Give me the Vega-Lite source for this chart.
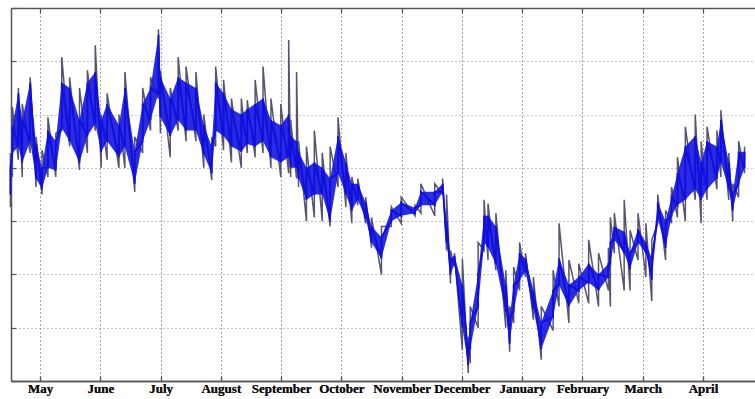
{
  "$schema": "https://vega.github.io/schema/vega-lite/v6.json",
  "width": 744,
  "height": 373,
  "autosize": "none",
  "padding": {"left": 11, "top": 8, "right": 0, "bottom": 18},
  "background": "white",
  "config": {
    "view": {"stroke": null},
    "axis": {
      "domainColor": "#555555",
      "domainWidth": 1.5,
      "tickColor": "#555555",
      "tickWidth": 1.2,
      "tickSize": -5,
      "gridColor": "#8a8a8a",
      "gridDash": [1, 3],
      "gridWidth": 1,
      "labelFont": "Liberation Serif",
      "labelFontWeight": "bold",
      "labelFontSize": 13,
      "labelColor": "#111111",
      "title": null
    }
  },
  "data": {
    "values": [
      {"date": "2010-04-16", "lo": 3.26, "hi": 4.28, "b1": 3.5, "b2": 4.0},
      {"date": "2010-04-17", "lo": 3.83, "hi": 5.14, "b1": 4.28, "b2": 4.77},
      {"date": "2010-04-20", "lo": 4.15, "hi": 5.5, "b1": 4.4, "b2": 5.4},
      {"date": "2010-04-22", "lo": 3.83, "hi": 5.2, "b1": 4.1, "b2": 4.9},
      {"date": "2010-04-26", "lo": 4.28, "hi": 5.7, "b1": 4.5, "b2": 5.6},
      {"date": "2010-04-29", "lo": 3.64, "hi": 4.58, "b1": 3.8, "b2": 4.45},
      {"date": "2010-05-02", "lo": 3.5, "hi": 4.33, "b1": 3.6, "b2": 4.0},
      {"date": "2010-05-05", "lo": 3.83, "hi": 4.95, "b1": 4.0, "b2": 4.7},
      {"date": "2010-05-09", "lo": 3.83, "hi": 4.65, "b1": 3.95, "b2": 4.5},
      {"date": "2010-05-12", "lo": 4.7, "hi": 6.08, "b1": 4.75, "b2": 5.6},
      {"date": "2010-05-16", "lo": 4.4, "hi": 5.7, "b1": 4.5, "b2": 5.5},
      {"date": "2010-05-21", "lo": 3.96, "hi": 5.5, "b1": 4.1, "b2": 4.9},
      {"date": "2010-05-25", "lo": 4.28, "hi": 5.83, "b1": 4.6, "b2": 5.6},
      {"date": "2010-05-29", "lo": 4.7, "hi": 6.3, "b1": 4.83, "b2": 5.8},
      {"date": "2010-06-01", "lo": 4.0, "hi": 5.0, "b1": 4.3, "b2": 4.9},
      {"date": "2010-06-04", "lo": 4.15, "hi": 5.4, "b1": 4.5, "b2": 5.2},
      {"date": "2010-06-10", "lo": 4.0, "hi": 5.0, "b1": 4.2, "b2": 4.8},
      {"date": "2010-06-13", "lo": 4.0, "hi": 5.8, "b1": 4.4, "b2": 5.5},
      {"date": "2010-06-18", "lo": 3.55, "hi": 4.58, "b1": 3.7, "b2": 4.3},
      {"date": "2010-06-22", "lo": 4.28, "hi": 5.5, "b1": 4.5, "b2": 5.2},
      {"date": "2010-06-26", "lo": 4.7, "hi": 5.7, "b1": 4.9, "b2": 5.5},
      {"date": "2010-06-30", "lo": 5.3, "hi": 6.6, "b1": 5.4, "b2": 6.5},
      {"date": "2010-07-01", "lo": 4.65, "hi": 5.83, "b1": 4.95, "b2": 5.7},
      {"date": "2010-07-06", "lo": 4.2, "hi": 5.5, "b1": 4.6, "b2": 5.3},
      {"date": "2010-07-10", "lo": 4.7, "hi": 6.08, "b1": 4.9, "b2": 5.7},
      {"date": "2010-07-14", "lo": 4.5, "hi": 5.9, "b1": 4.7, "b2": 5.6},
      {"date": "2010-07-19", "lo": 4.5, "hi": 5.8, "b1": 4.7, "b2": 5.5},
      {"date": "2010-07-23", "lo": 4.0, "hi": 5.0, "b1": 4.25, "b2": 4.8},
      {"date": "2010-07-27", "lo": 3.77, "hi": 4.58, "b1": 3.9, "b2": 4.4},
      {"date": "2010-07-29", "lo": 4.4, "hi": 5.9, "b1": 4.7, "b2": 5.6},
      {"date": "2010-08-02", "lo": 4.33, "hi": 5.65, "b1": 4.6, "b2": 5.4},
      {"date": "2010-08-06", "lo": 4.1, "hi": 5.3, "b1": 4.4, "b2": 5.1},
      {"date": "2010-08-11", "lo": 4.0, "hi": 5.3, "b1": 4.3, "b2": 5.0},
      {"date": "2010-08-14", "lo": 4.28, "hi": 5.27, "b1": 4.45, "b2": 5.1},
      {"date": "2010-08-18", "lo": 4.2, "hi": 5.65, "b1": 4.4, "b2": 5.2},
      {"date": "2010-08-22", "lo": 4.28, "hi": 5.9, "b1": 4.5, "b2": 5.3},
      {"date": "2010-08-26", "lo": 4.0, "hi": 5.3, "b1": 4.2, "b2": 4.9},
      {"date": "2010-08-31", "lo": 3.83, "hi": 5.2, "b1": 4.1, "b2": 4.8},
      {"date": "2010-09-04", "lo": 3.9, "hi": 6.4, "b1": 4.2, "b2": 5.0},
      {"date": "2010-09-05", "lo": 3.83, "hi": 4.9, "b1": 4.0, "b2": 4.6},
      {"date": "2010-09-08", "lo": 3.8, "hi": 5.8, "b1": 4.0, "b2": 4.5},
      {"date": "2010-09-09", "lo": 3.64, "hi": 4.5, "b1": 3.8, "b2": 4.3},
      {"date": "2010-09-13", "lo": 3.0, "hi": 4.4, "b1": 3.4, "b2": 4.0},
      {"date": "2010-09-17", "lo": 3.07, "hi": 4.7, "b1": 3.5, "b2": 4.1},
      {"date": "2010-09-21", "lo": 3.0, "hi": 4.28, "b1": 3.5, "b2": 4.0},
      {"date": "2010-09-25", "lo": 2.9, "hi": 4.4, "b1": 3.0, "b2": 3.8},
      {"date": "2010-09-29", "lo": 3.64, "hi": 4.95, "b1": 3.9, "b2": 4.6},
      {"date": "2010-10-03", "lo": 3.26, "hi": 4.28, "b1": 3.5, "b2": 4.1},
      {"date": "2010-10-06", "lo": 2.96, "hi": 3.83, "b1": 3.2, "b2": 3.7},
      {"date": "2010-10-09", "lo": 3.3, "hi": 3.8, "b1": 3.4, "b2": 3.7},
      {"date": "2010-10-13", "lo": 2.96, "hi": 3.45, "b1": 3.05, "b2": 3.35},
      {"date": "2010-10-16", "lo": 2.5, "hi": 3.07, "b1": 2.6, "b2": 2.9},
      {"date": "2010-10-21", "lo": 2.0, "hi": 2.9, "b1": 2.3, "b2": 2.7},
      {"date": "2010-10-26", "lo": 2.9, "hi": 3.27, "b1": 3.0, "b2": 3.2},
      {"date": "2010-10-31", "lo": 2.96, "hi": 3.45, "b1": 3.1, "b2": 3.35},
      {"date": "2010-11-07", "lo": 3.1, "hi": 3.3, "b1": 3.15, "b2": 3.25},
      {"date": "2010-11-10", "lo": 3.15, "hi": 3.7, "b1": 3.3, "b2": 3.55},
      {"date": "2010-11-17", "lo": 3.1, "hi": 3.7, "b1": 3.3, "b2": 3.55},
      {"date": "2010-11-21", "lo": 3.5, "hi": 3.8, "b1": 3.55, "b2": 3.7},
      {"date": "2010-11-23", "lo": 2.45, "hi": 3.5, "b1": 2.6, "b2": 3.0},
      {"date": "2010-11-25", "lo": 1.83, "hi": 2.45, "b1": 2.0, "b2": 2.3},
      {"date": "2010-11-27", "lo": 2.15, "hi": 2.4, "b1": 2.2, "b2": 2.35},
      {"date": "2010-12-01", "lo": 0.58, "hi": 2.3, "b1": 1.0, "b2": 1.8},
      {"date": "2010-12-04", "lo": 0.15, "hi": 0.83, "b1": 0.3, "b2": 0.7},
      {"date": "2010-12-05", "lo": 0.34, "hi": 1.4, "b1": 0.6, "b2": 1.1},
      {"date": "2010-12-09", "lo": 1.0, "hi": 2.6, "b1": 1.4, "b2": 2.0},
      {"date": "2010-12-12", "lo": 2.45, "hi": 3.4, "b1": 2.6, "b2": 3.1},
      {"date": "2010-12-14", "lo": 2.27, "hi": 3.33, "b1": 2.5, "b2": 3.1},
      {"date": "2010-12-18", "lo": 2.08, "hi": 3.15, "b1": 2.2, "b2": 2.9},
      {"date": "2010-12-23", "lo": 1.0, "hi": 2.08, "b1": 1.3, "b2": 1.8},
      {"date": "2010-12-25", "lo": 0.55, "hi": 1.4, "b1": 0.7, "b2": 1.2},
      {"date": "2010-12-27", "lo": 1.09, "hi": 2.14, "b1": 1.3, "b2": 1.8},
      {"date": "2010-12-30", "lo": 1.7, "hi": 2.6, "b1": 1.9, "b2": 2.4},
      {"date": "2011-01-02", "lo": 1.95, "hi": 2.4, "b1": 2.05, "b2": 2.3},
      {"date": "2011-01-06", "lo": 1.15, "hi": 1.95, "b1": 1.35, "b2": 1.7},
      {"date": "2011-01-10", "lo": 0.4, "hi": 1.4, "b1": 0.6, "b2": 1.1},
      {"date": "2011-01-16", "lo": 0.95, "hi": 2.08, "b1": 1.2, "b2": 1.7},
      {"date": "2011-01-19", "lo": 1.4, "hi": 2.96, "b1": 1.8, "b2": 2.3},
      {"date": "2011-01-24", "lo": 1.09, "hi": 2.27, "b1": 1.4, "b2": 1.8},
      {"date": "2011-01-29", "lo": 1.46, "hi": 2.2, "b1": 1.7, "b2": 1.95},
      {"date": "2011-02-03", "lo": 1.46, "hi": 2.65, "b1": 1.85, "b2": 2.2},
      {"date": "2011-02-08", "lo": 1.4, "hi": 2.4, "b1": 1.7, "b2": 2.0},
      {"date": "2011-02-13", "lo": 1.7, "hi": 2.5, "b1": 1.95, "b2": 2.2},
      {"date": "2011-02-14", "lo": 1.4, "hi": 3.07, "b1": 2.2, "b2": 2.6},
      {"date": "2011-02-16", "lo": 2.4, "hi": 3.15, "b1": 2.65, "b2": 2.9},
      {"date": "2011-02-21", "lo": 1.7, "hi": 3.4, "b1": 2.4, "b2": 2.8},
      {"date": "2011-02-24", "lo": 1.7, "hi": 2.83, "b1": 2.1, "b2": 2.4},
      {"date": "2011-02-28", "lo": 2.27, "hi": 3.15, "b1": 2.6, "b2": 2.85},
      {"date": "2011-03-04", "lo": 1.95, "hi": 2.96, "b1": 2.4, "b2": 2.6},
      {"date": "2011-03-07", "lo": 1.5, "hi": 2.65, "b1": 1.9, "b2": 2.3},
      {"date": "2011-03-10", "lo": 2.96, "hi": 3.5, "b1": 3.05, "b2": 3.35},
      {"date": "2011-03-14", "lo": 2.27, "hi": 3.2, "b1": 2.5, "b2": 3.0},
      {"date": "2011-03-17", "lo": 2.96, "hi": 3.64, "b1": 3.1, "b2": 3.45},
      {"date": "2011-03-20", "lo": 3.07, "hi": 4.2, "b1": 3.3, "b2": 3.9},
      {"date": "2011-03-24", "lo": 3.0, "hi": 4.77, "b1": 3.4, "b2": 4.4},
      {"date": "2011-03-29", "lo": 3.4, "hi": 5.0, "b1": 3.6, "b2": 4.6},
      {"date": "2011-04-01", "lo": 2.96, "hi": 4.5, "b1": 3.4, "b2": 4.1},
      {"date": "2011-04-04", "lo": 3.4, "hi": 4.77, "b1": 3.6, "b2": 4.5},
      {"date": "2011-04-09", "lo": 3.6, "hi": 4.7, "b1": 3.8, "b2": 4.4},
      {"date": "2011-04-11", "lo": 3.83, "hi": 5.08, "b1": 4.1, "b2": 4.9},
      {"date": "2011-04-15", "lo": 3.4, "hi": 4.28, "b1": 3.6, "b2": 4.1},
      {"date": "2011-04-17", "lo": 3.0, "hi": 3.7, "b1": 3.2, "b2": 3.5},
      {"date": "2011-04-20", "lo": 3.45, "hi": 4.5, "b1": 3.7, "b2": 4.3},
      {"date": "2011-04-23", "lo": 3.9, "hi": 4.4, "b1": 4.0, "b2": 4.3}
    ]
  },
  "layer": [
    {
      "transform": [{"fold": ["lo", "hi"], "as": ["bound", "value"]}],
      "mark": {"type": "line", "interpolate": "linear", "color": "#55556f", "strokeWidth": 1.5},
      "encoding": {
        "x": {
          "field": "date", "type": "temporal",
          "scale": {"domain": [{"year": 2010, "month": 4, "date": 16, "hours": 7}, {"year": 2011, "month": 4, "date": 28, "hours": 7}]},
          "axis": {
            "orient": "bottom",
            "grid": true,
            "labelPadding": 6,
            "values": [
              {"year": 2010, "month": 5, "date": 1},
              {"year": 2010, "month": 5, "date": 31, "hours": 13},
              {"year": 2010, "month": 7, "date": 1, "hours": 2},
              {"year": 2010, "month": 7, "date": 31, "hours": 15},
              {"year": 2010, "month": 8, "date": 31, "hours": 4},
              {"year": 2010, "month": 9, "date": 30, "hours": 17},
              {"year": 2010, "month": 10, "date": 31, "hours": 6},
              {"year": 2010, "month": 11, "date": 30, "hours": 19},
              {"year": 2010, "month": 12, "date": 31, "hours": 8},
              {"year": 2011, "month": 1, "date": 30, "hours": 21},
              {"year": 2011, "month": 3, "date": 2, "hours": 10},
              {"year": 2011, "month": 4, "date": 1, "hours": 23}
            ],
            "labelExpr": "timeFormat(time(datum.value) + 172800000, '%B')"
          }
        },
        "y": {
          "field": "value", "type": "quantitative",
          "scale": {"domain": [0, 7], "nice": false},
          "axis": {"orient": "left", "grid": true, "labels": false, "values": [0, 1, 2, 3, 4, 5, 6, 7]}
        }
      }
    },
    {
      "mark": {"type": "area", "interpolate": "linear", "color": "#1414e0", "opacity": 0.9},
      "encoding": {
        "x": {
          "field": "date", "type": "temporal",
          "axis": {
            "orient": "top",
            "grid": false,
            "labels": false,
            "values": [
              {"year": 2010, "month": 5, "date": 1},
              {"year": 2010, "month": 5, "date": 31, "hours": 13},
              {"year": 2010, "month": 7, "date": 1, "hours": 2},
              {"year": 2010, "month": 7, "date": 31, "hours": 15},
              {"year": 2010, "month": 8, "date": 31, "hours": 4},
              {"year": 2010, "month": 9, "date": 30, "hours": 17},
              {"year": 2010, "month": 10, "date": 31, "hours": 6},
              {"year": 2010, "month": 11, "date": 30, "hours": 19},
              {"year": 2010, "month": 12, "date": 31, "hours": 8},
              {"year": 2011, "month": 1, "date": 30, "hours": 21},
              {"year": 2011, "month": 3, "date": 2, "hours": 10},
              {"year": 2011, "month": 4, "date": 1, "hours": 23}
            ]
          }
        },
        "y": {"field": "b1", "type": "quantitative"},
        "y2": {"field": "b2"}
      }
    },
    {
      "transform": [{"fold": ["b1", "b2"], "as": ["band", "bv"]}],
      "mark": {"type": "line", "interpolate": "linear", "color": "#1010dc", "strokeWidth": 1.8},
      "encoding": {
        "x": {
          "field": "date", "type": "temporal",
          "axis": {
            "orient": "bottom",
            "grid": true,
            "labelPadding": 6,
            "values": [
              {"year": 2010, "month": 5, "date": 1},
              {"year": 2010, "month": 5, "date": 31, "hours": 13},
              {"year": 2010, "month": 7, "date": 1, "hours": 2},
              {"year": 2010, "month": 7, "date": 31, "hours": 15},
              {"year": 2010, "month": 8, "date": 31, "hours": 4},
              {"year": 2010, "month": 9, "date": 30, "hours": 17},
              {"year": 2010, "month": 10, "date": 31, "hours": 6},
              {"year": 2010, "month": 11, "date": 30, "hours": 19},
              {"year": 2010, "month": 12, "date": 31, "hours": 8},
              {"year": 2011, "month": 1, "date": 30, "hours": 21},
              {"year": 2011, "month": 3, "date": 2, "hours": 10},
              {"year": 2011, "month": 4, "date": 1, "hours": 23}
            ],
            "labelExpr": "timeFormat(time(datum.value) + 172800000, '%B')"
          }
        },
        "y": {
          "field": "bv", "type": "quantitative",
          "axis": {"orient": "left", "grid": true, "labels": false, "values": [0, 1, 2, 3, 4, 5, 6, 7]}
        }
      }
    }
  ]
}
